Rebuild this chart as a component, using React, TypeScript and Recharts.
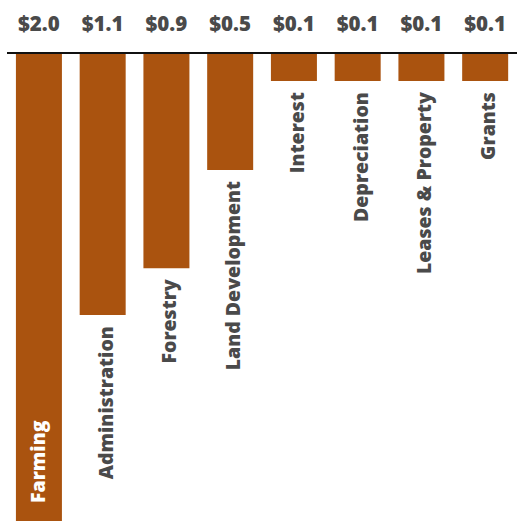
import { BarChart, Bar, XAxis, YAxis, ReferenceLine, LabelList } from 'recharts';

const categories = ['Farming', 'Administration', 'Forestry', 'Land Development', 'Interest', 'Depreciation', 'Leases & Property', 'Grants'];
const amounts = [2.0, 1.12, 0.92, 0.5, 0.12, 0.12, 0.12, 0.12];

const data = categories.map((name, i) => ({ name, amount: amounts[i] }));

const BROWN = '#aa530f';
const GRAY = '#4a4a4a';
const FONT = '"Open Sans", sans-serif';

function ValueLabel(props: any) {
  const { x, width, value } = props;
  return (
    <text x={x + width / 2} y={31} textAnchor="middle" fill={GRAY} fontFamily={FONT} fontWeight={800} fontSize={20.5}>
      ${Number(value).toFixed(1)}
    </text>
  );
}

function NameLabel(props: any) {
  const { x, y, width, height, index } = props;
  const bottom = Math.max(y, y + height);
  const inside = index === 0;
  const cx = x + width / 2 + (inside ? 6 : 10);
  const ty = inside ? bottom - 18 : bottom + 11;
  return (
    <text
      x={cx}
      y={ty}
      transform={`rotate(-90 ${cx} ${ty})`}
      textAnchor={inside ? 'start' : 'end'}
      fill={inside ? '#ffffff' : GRAY}
      fontFamily={FONT}
      fontWeight={800}
      fontSize={19.5}
    >
      {categories[index]}
    </text>
  );
}

export default function App() {
  return (
    <div style={{ position: 'absolute', left: 0, top: 0 }}>
      <BarChart width={523} height={521} data={data} margin={{ top: 53, right: 6, bottom: 0, left: 7 }} barCategoryGap="14%">
        <XAxis dataKey="name" hide />
        <YAxis hide reversed domain={[0, 2]} />
        <Bar dataKey="amount" fill={BROWN} isAnimationActive={false}>
          <LabelList dataKey="amount" content={<ValueLabel />} />
          <LabelList dataKey="name" content={<NameLabel />} />
        </Bar>
        <ReferenceLine y={0} stroke="#111" strokeWidth={2} />
      </BarChart>
    </div>
  );
}
